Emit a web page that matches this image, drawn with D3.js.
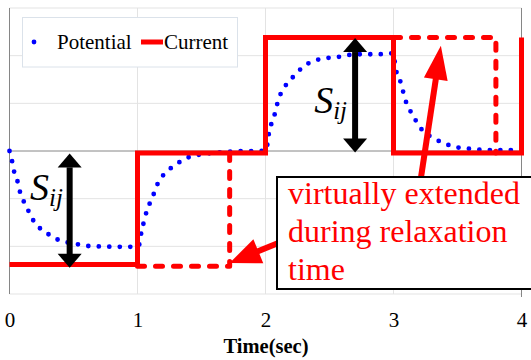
<!DOCTYPE html>
<html>
<head>
<meta charset="utf-8">
<script src="https://cdn.jsdelivr.net/npm/d3@7/dist/d3.min.js"></script>
<style>
  html, body { margin: 0; padding: 0; background: #fff; }
  svg { display: block; }
  svg text { font-family: "Liberation Serif", "Times New Roman", Times, serif; }
</style>
</head>
<body>
<svg id="chart" width="531" height="360"></svg>
<script>
// Time axis ticks
const xTicks = [0, 1, 2, 3, 4];
const yGrid = [-3, -2, -1, 0, 1, 2, 3];

// Applied current (square wave)
const currentTime  = [0, 1, 1, 2, 2, 3, 3, 4, 4];
const currentValue = [-2.38, -2.38, -0.04, -0.04, 2.38, 2.38, -0.04, -0.04, 2.38];

// Current virtually extended during relaxation time
const extendedLowTime  = [1, 1.72, 1.72];
const extendedLowValue = [-2.42, -2.42, -0.04];
const extendedHighTime  = [3, 3.8, 3.8];
const extendedHighValue = [2.38, 2.38, -0.04];

// Measured potential response
const potentialTime = [
  0.00, 0.02, 0.035, 0.06, 0.08, 0.11, 0.145, 0.18, 0.23, 0.29, 0.37, 0.44, 0.52, 0.60, 0.68, 0.88, 1.00,
  1.02, 1.03, 1.05, 1.07, 1.10, 1.13, 1.16, 1.21, 1.27, 1.33, 1.40, 1.48, 1.59, 1.68, 1.93, 2.00,
  2.02, 2.03, 2.06, 2.08, 2.10, 2.13, 2.18, 2.24, 2.29, 2.36, 2.48, 2.56, 2.64, 2.71, 2.89, 3.00,
  3.01, 3.02, 3.05, 3.07, 3.09, 3.12, 3.16, 3.20, 3.25, 3.31, 3.39, 3.46, 3.54, 3.63, 3.71, 3.80, 4.00
];
const potentialValue = [
  0.00, -0.21, -0.42, -0.61, -0.84, -1.05, -1.24, -1.43, -1.60, -1.72, -1.85, -1.91, -1.95, -1.99, -2.00, -2.01, -2.01,
  -1.91, -1.70, -1.49, -1.28, -1.07, -0.88, -0.67, -0.48, -0.34, -0.23, -0.13, -0.08, -0.04, -0.02, 0.00, 0.00,
  0.23, 0.44, 0.65, 0.86, 1.07, 1.26, 1.45, 1.62, 1.76, 1.87, 1.95, 1.97, 2.01, 2.03, 2.03, 2.05,
  1.87, 1.70, 1.49, 1.30, 1.09, 0.90, 0.71, 0.52, 0.38, 0.27, 0.17, 0.10, 0.06, 0.04, 0.02, 0.02, 0.02
];

const legendLabels = ["Potential", "Current"];
const xTitle = "Time(sec)";
const noteLines = ["virtually extended", "during relaxation", "time"];

const serif = "'Liberation Serif', 'Times New Roman', Times, serif";
const svg = d3.select("#chart");
const x = d3.scaleLinear().domain([0, 4]).range([9.5, 521.5]);
const y = d3.scaleLinear().domain([-3, 3]).range([294, 8]);

const gridColor = "#e3e3e3";
const axisColor = "#868686";

// Gridlines
svg.append("g").selectAll("line").data(yGrid.filter(d => d !== 0)).join("line")
  .attr("x1", x(0)).attr("x2", x(4))
  .attr("y1", d => y(d)).attr("y2", d => y(d))
  .attr("stroke", gridColor).attr("stroke-width", 1);
svg.append("g").selectAll("line").data(xTicks.filter(d => d > 0 && d < 4)).join("line")
  .attr("x1", d => x(d)).attr("x2", d => x(d))
  .attr("y1", y(3)).attr("y2", y(-3))
  .attr("stroke", gridColor).attr("stroke-width", 1);

// Axis lines
svg.append("line").attr("x1", x(0)).attr("x2", x(4)).attr("y1", y(0)).attr("y2", y(0))
  .attr("stroke", axisColor).attr("stroke-width", 1);
svg.append("line").attr("x1", x(0)).attr("x2", x(0)).attr("y1", y(3)).attr("y2", y(-3))
  .attr("stroke", axisColor).attr("stroke-width", 1);
svg.append("line").attr("x1", x(4)).attr("x2", x(4)).attr("y1", y(3)).attr("y2", y(-3) + 3)
  .attr("stroke", axisColor).attr("stroke-width", 1);

// X axis tick labels
const xAxis = d3.axisBottom(x).tickValues(xTicks).tickFormat(d3.format("d")).tickSize(0);
const gx = svg.append("g").attr("transform", `translate(0,${y(-3)})`).call(xAxis);
gx.attr("font-family", serif);
gx.select(".domain").remove();
gx.selectAll("text")
  .attr("dy", null).attr("y", 33)
  .attr("font-family", serif)
  .attr("font-size", 21).attr("fill", "#000");

svg.append("text").attr("x", 266).attr("y", 353).attr("text-anchor", "middle")
  .attr("font-family", serif)
  .attr("font-size", 20.5).attr("font-weight", "bold").text(xTitle);

// Potential (dotted)
const potLine = d3.line().x(d => x(d[0])).y(d => y(d[1])).curve(d3.curveMonotoneX);
svg.append("path")
  .datum(potentialTime.map((t, i) => [t, potentialValue[i]]))
  .attr("d", potLine)
  .attr("fill", "none").attr("stroke", "#0000ff").attr("stroke-width", 4.8)
  .attr("stroke-linecap", "round").attr("stroke-dasharray", "0 10.5");

// Current (solid)
const stepLine = d3.line().x(d => x(d[0])).y(d => y(d[1]));
svg.append("path")
  .datum(currentTime.map((t, i) => [t, currentValue[i]]))
  .attr("d", stepLine)
  .attr("fill", "none").attr("stroke", "#ff0000").attr("stroke-width", 5)
  .attr("stroke-linejoin", "miter");

// Extended current (dashed)
[[extendedLowTime, extendedLowValue], [extendedHighTime, extendedHighValue]].forEach(([ts, vs]) => {
  svg.append("path")
    .datum(ts.map((t, i) => [t, vs[i]]))
    .attr("d", stepLine)
    .attr("fill", "none").attr("stroke", "#ff0000").attr("stroke-width", 5)
    .attr("stroke-linecap", "round").attr("stroke-linejoin", "round")
    .attr("stroke-dasharray", "7 11");
});

// Arrow helper: shaft plus triangular heads, in pixel space
function arrow(g, x1, y1, x2, y2, opts) {
  const { color, width, headLen, headHalf, both } = opts;
  const dx = x2 - x1, dy = y2 - y1, len = Math.hypot(dx, dy);
  const ux = dx / len, uy = dy / len, nx = -uy, ny = ux;
  const sx = both ? x1 + ux * headLen : x1, sy = both ? y1 + uy * headLen : y1;
  const ex = x2 - ux * headLen, ey = y2 - uy * headLen;
  g.append("line").attr("x1", sx).attr("y1", sy).attr("x2", ex + ux).attr("y2", ey + uy)
    .attr("stroke", color).attr("stroke-width", width);
  const head = (tx, ty, bx, by) => g.append("path")
    .attr("d", `M${tx},${ty}L${bx + nx * headHalf},${by + ny * headHalf}L${bx - nx * headHalf},${by - ny * headHalf}Z`)
    .attr("fill", color);
  head(x2, y2, ex, ey);
  if (both) head(x1, y1, sx, sy);
}

// Step-size markers S_ij
const marks = svg.append("g");
arrow(marks, x(0.47), y(-0.05), x(0.47), y(-2.45), { color: "#000", width: 6, headLen: 14, headHalf: 12, both: true });
arrow(marks, x(2.70), y(2.37), x(2.70), y(-0.03), { color: "#000", width: 6, headLen: 14, headHalf: 12, both: true });

function sLabel(px, py) {
  const t = svg.append("text").attr("x", px).attr("y", py)
    .attr("font-family", serif)
    .attr("font-style", "italic").attr("font-size", 38).attr("fill", "#000");
  t.append("tspan").text("S");
  t.append("tspan").attr("font-size", 25).attr("dy", 6).text("ij");
}
sLabel(x(0.16), y(-1.03));
sLabel(x(2.38), y(0.80));

// Annotation arrows
const ann = svg.append("g");
arrow(ann, x(2.10), y(-1.93), x(1.72), y(-2.35), { color: "#ff0000", width: 6, headLen: 31, headHalf: 13, both: false });
arrow(ann, x(3.215), y(-0.55), x(3.37), y(2.21), { color: "#ff0000", width: 6, headLen: 34, headHalf: 12, both: false });

// Annotation box
svg.append("rect").attr("x", 277).attr("y", 177).attr("width", 280).attr("height", 112)
  .attr("fill", "#fff").attr("stroke", "#000").attr("stroke-width", 2);
svg.append("g").selectAll("text").data(noteLines).join("text")
  .attr("x", 288).attr("y", (d, i) => 204 + i * 38)
  .attr("font-family", serif)
  .attr("font-size", 32).attr("fill", "#ff0000").text(d => d);

// Legend
const lg = svg.append("g");
lg.append("rect").attr("x", 22.5).attr("y", 17.5).attr("width", 215).attr("height", 49.5)
  .attr("fill", "#fff").attr("stroke", "#dbe2ea").attr("stroke-width", 1);
lg.append("line").attr("x1", 34).attr("x2", 46).attr("y1", 42).attr("y2", 42)
  .attr("stroke", "#0000ff").attr("stroke-width", 4.8).attr("stroke-linecap", "round")
  .attr("stroke-dasharray", "0 12");
lg.append("text").attr("x", 57).attr("y", 48.5).attr("font-family", serif)
  .attr("font-size", 21).text(legendLabels[0]);
lg.append("line").attr("x1", 141).attr("x2", 163).attr("y1", 42).attr("y2", 42)
  .attr("stroke", "#ff0000").attr("stroke-width", 5);
lg.append("text").attr("x", 164).attr("y", 48.5).attr("font-family", serif)
  .attr("font-size", 21).text(legendLabels[1]);
</script>
</body>
</html>
